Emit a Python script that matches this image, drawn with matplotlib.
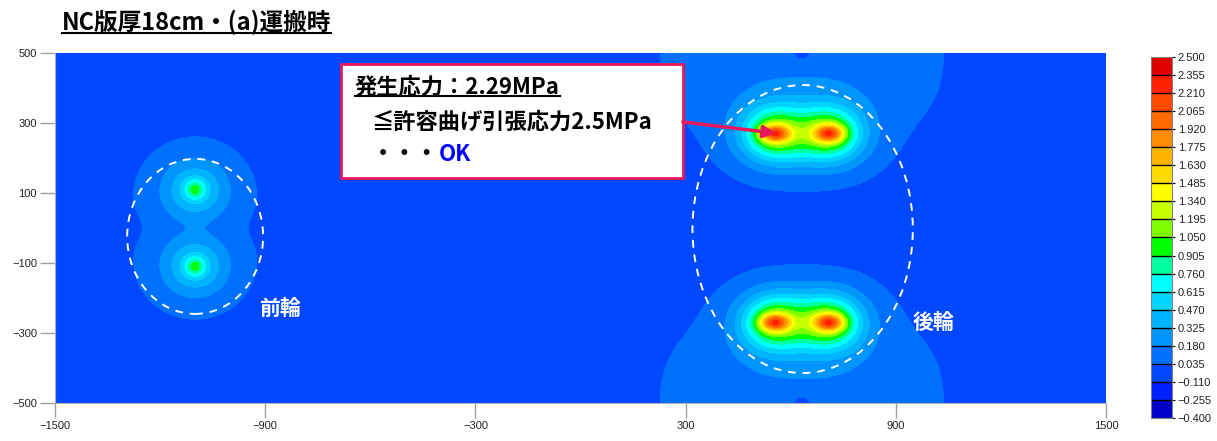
import numpy as np
import matplotlib
matplotlib.use("Agg")
import matplotlib.pyplot as plt
from matplotlib.colors import ListedColormap, BoundaryNorm
from matplotlib.patches import Ellipse, Rectangle
from matplotlib.lines import Line2D

plt.rcParams['font.family'] = ['Noto Sans CJK JP', 'DejaVu Sans']

# legend levels (MPa) and their colours, bottom to top
levels = np.round(np.linspace(-0.4, 2.5, 21), 3)
level_colors = ['#0000C8', '#0020FF', '#0048FF', '#0070FF', '#0094FF',
                '#00B4FF', '#00D4FF', '#00FFFF', '#00FFA0', '#00FF00',
                '#80FF00', '#C8FF00', '#FFFF00', '#FFDC00', '#FFB400',
                '#FF8C00', '#FF6A00', '#FF4A00', '#FF2000', '#E00000']

# tyre positions (mm): front axle, then rear dual tyres
tire_x = [-1100, -1100, 555, 710, 555, 710]
tire_y = [110, -110, 270, 270, -270, -270]
# stress bump for each tyre: sharp core + body + tail
core_amp = [0.33, 0.33, 0.85, 0.85, 0.85, 0.85]
core_wx = [25, 25, 40, 40, 40, 40]
core_wy = [25, 25, 22, 22, 22, 22]
body_amp = [0.22, 0.22, 0.80, 0.80, 0.80, 0.80]
body_wx = [85, 85, 90, 90, 90, 90]
body_wy = [80, 80, 76, 76, 76, 76]
tail_amp = [0.50, 0.50, 0.55, 0.55, 0.55, 0.55]
tail_lx = [82, 82, 85, 85, 85, 85]
tail_ly = [74, 74, 65, 65, 65, 65]

# small negative zone between the wheels of each axle
axle_x = [-1100, 632]
dip_amp = [-0.06, -0.06]
dip_wx = [150, 300]
dip_wy = [60, 80]

# free-edge effect of the slab near the rear axle
edge_x = 632
edge_amp = 0.15
edge_w = 419
edge_ly = 191
notch_amp = -0.16
notch_w = 35
notch_h = 28

base = -0.04

x = np.linspace(-1500, 1500, 751)
y = np.linspace(-500, 500, 251)
X, Y = np.meshgrid(x, y)
Z = np.full_like(X, base)
for i in range(len(tire_x)):
    dx = X - tire_x[i]
    dy = Y - tire_y[i]
    Z += core_amp[i] * np.exp(-(dx / core_wx[i])**2 - (dy / core_wy[i])**2)
    Z += body_amp[i] * np.exp(-(dx / body_wx[i])**2 - (dy / body_wy[i])**2)
    Z += tail_amp[i] * np.exp(-np.sqrt((dx / tail_lx[i])**2 + (dy / tail_ly[i])**2))
for i in range(len(axle_x)):
    Z += dip_amp[i] * np.exp(-((X - axle_x[i]) / dip_wx[i])**2 - (Y / dip_wy[i])**2)
from_edge = 500 - np.abs(Y)
Z += edge_amp * np.exp(-((X - edge_x) / edge_w)**8) * np.exp(-(from_edge / edge_ly)**2)
Z += notch_amp * np.exp(-((X - edge_x) / notch_w)**2 - (from_edge / notch_h)**2)
Z = np.clip(Z, -0.399, 2.499)

cmap = ListedColormap(level_colors)
norm = BoundaryNorm(levels, cmap.N)

fig = plt.figure(figsize=(12.17, 4.41), dpi=100)
ax = fig.add_axes([0.0452, 0.0862, 0.8636, 0.7936])
cs = ax.contourf(X, Y, Z, levels=levels, cmap=cmap, norm=norm)
ax.set_xlim(-1500, 1500)
ax.set_ylim(-500, 500)
ax.set_xticks([-1500, -900, -300, 300, 900, 1500])
ax.set_yticks([-500, -300, -100, 100, 300, 500])
ax.set_xticklabels(['\u22121500', '\u2212900', '\u2212300', '300', '900', '1500'])
ax.set_yticklabels(['\u2212500', '\u2212300', '\u2212100', '100', '300', '500'])
ax.tick_params(length=11, width=1, color='#A0A0A0', labelsize=8,
               labelcolor='#222222', pad=2)
for lab in ax.get_xticklabels() + ax.get_yticklabels():
    lab.set_family('Liberation Sans')
for s in ['top', 'right']:
    ax.spines[s].set_visible(False)
for s in ['left', 'bottom']:
    ax.spines[s].set_color('#B0B0B0')

# dashed rings around the wheel groups
ax.add_patch(Ellipse((-1100, -24), 388, 443, fill=False, ec='white', lw=1.4,
                     ls=(0, (4, 3.5))))
ax.add_patch(Ellipse((634, -3), 629, 823, fill=False, ec='white', lw=1.4,
                     ls=(0, (4, 3.5))))
ax.text(-858, -229, '前輪', color='white', fontsize=15, fontweight='bold',
        ha='center', va='center')
ax.text(1008, -269, '後輪', color='white', fontsize=15, fontweight='bold',
        ha='center', va='center')

# callout box
ax.add_patch(Rectangle((-684, 143), 976, 326, fc='white', ec='#E8185A', lw=2,
                       zorder=5))
t1 = ax.text(-644, 403, '発生応力：2.29MPa', fontsize=16, fontweight='bold',
             va='center', ha='left', zorder=6)
ax.text(-595, 303, '≦許容曲げ引張応力2.5MPa', fontsize=16, fontweight='bold',
        va='center', ha='left', zorder=6)
t3 = ax.text(-595, 209, '・・・', fontsize=16, fontweight='bold',
             va='center', ha='left', zorder=6)
ax.annotate('', xy=(557, 271), xytext=(292, 303),
            arrowprops=dict(arrowstyle='-|>', color='#E8185A', lw=2.5,
                            mutation_scale=18, shrinkA=0, shrinkB=0), zorder=7)

title = fig.text(62 / 1217, 1 - 22 / 441, 'NC版厚18cm・(a)運搬時', fontsize=17,
                 fontweight='bold', ha='left', va='center')

# colour bar
cax = fig.add_axes([0.9458, 0.0522, 0.0173, 0.8186])
cb = fig.colorbar(cs, cax=cax, ticks=levels, drawedges=True)
cb.dividers.set_color('black')
cb.dividers.set_linewidth(1)
cb.outline.set_edgecolor('#808080')
cb.ax.set_yticklabels([('%.3f' % v).replace('-', '\u2212') for v in levels])
cb.ax.tick_params(length=2, width=0.8, labelsize=8, labelcolor='#222222', pad=2)
for lab in cb.ax.get_yticklabels():
    lab.set_family('Liberation Sans')

# "OK" in blue after the dots, and underlines
fig.canvas.draw()
r = fig.canvas.get_renderer()
inv = fig.transFigure.inverted()
bb3 = t3.get_window_extent(r)
x3, _ = ax.transData.inverted().transform((bb3.x1, 0))
ax.text(x3, 209, 'OK', fontsize=16, fontweight='bold', color='#0000FF',
        va='center', ha='left', zorder=6)
for t in (title, t1):
    bb = t.get_window_extent(r)
    (fx0, fy0), (fx1, _) = inv.transform([(bb.x0, bb.y0 + 2), (bb.x1, bb.y0)])
    fig.add_artist(Line2D([fx0, fx1], [fy0, fy0], color='black', lw=1.5,
                          zorder=8))

fig.savefig('out.png', dpi=100)
